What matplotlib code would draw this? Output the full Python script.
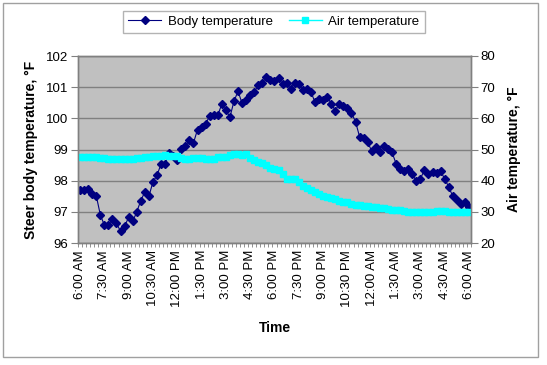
import numpy as np
import matplotlib
matplotlib.use("Agg")
import matplotlib.pyplot as plt
from matplotlib.patches import Rectangle

plt.rcParams['font.family'] = ['Liberation Sans', 'DejaVu Sans']

# tick labels on the category axis (every 6th 15-min reading)
time_labels = ['6:00 AM', '7:30 AM', '9:00 AM', '10:30 AM', '12:00 PM', '1:30 PM',
               '3:00 PM', '4:30 PM', '6:00 PM', '7:30 PM', '9:00 PM', '10:30 PM',
               '12:00 AM', '1:30 AM', '3:00 AM', '4:30 AM', '6:00 AM']

# steer body temperature, deg F (15 min readings, 6:00 AM -> 6:00 AM)
body_temp = [97.71, 97.70, 97.73, 97.58, 97.52, 96.91, 96.57, 96.57, 96.78, 96.64,
             96.37, 96.53, 96.83, 96.69, 97.00, 97.36, 97.64, 97.50, 97.96, 98.17,
             98.54, 98.54, 98.89, 98.80, 98.66, 99.02, 99.10, 99.32, 99.21, 99.64,
             99.73, 99.83, 100.07, 100.11, 100.11, 100.45, 100.26, 100.04, 100.55, 100.87,
             100.48, 100.60, 100.74, 100.84, 101.07, 101.14, 101.34, 101.23, 101.20, 101.30,
             101.09, 101.12, 100.95, 101.14, 101.11, 100.90, 100.95, 100.84, 100.52, 100.63,
             100.59, 100.69, 100.47, 100.25, 100.47, 100.39, 100.33, 100.18, 99.89, 99.41,
             99.37, 99.23, 98.95, 99.07, 98.92, 99.10, 99.02, 98.91, 98.55, 98.38,
             98.30, 98.36, 98.22, 97.98, 98.06, 98.34, 98.22, 98.27, 98.23, 98.30,
             98.06, 97.80, 97.50, 97.37, 97.26, 97.31, 97.16]

# air temperature, deg F
air_temp = [47.6, 47.7, 47.7, 47.6, 47.5, 47.3, 47.2, 47.1, 47.0, 46.9,
            46.9, 46.9, 47.0, 47.0, 47.2, 47.4, 47.6, 47.7, 47.9, 48.0,
            48.0, 48.1, 48.0, 47.9, 47.8, 47.3, 47.0, 47.1, 47.2, 47.2,
            47.3, 47.0, 46.8, 47.1, 47.5, 47.6, 47.5, 48.1, 48.7, 48.7,
            48.1, 48.4, 47.3, 46.6, 46.0, 45.7, 44.9, 44.0, 43.8, 43.4,
            42.1, 40.5, 40.6, 40.6, 39.5, 38.4, 37.6, 36.9, 36.3, 35.6,
            35.2, 34.8, 34.5, 34.1, 33.6, 33.3, 33.1, 32.6, 32.3, 32.1,
            31.9, 31.8, 31.6, 31.5, 31.3, 31.1, 30.9, 30.7, 30.6, 30.5,
            30.3, 30.1, 30.0, 29.9, 29.8, 29.8, 29.8, 30.0, 30.2, 30.3,
            30.2, 30.1, 30.0, 29.9, 29.9, 29.9, 29.9]

x = np.arange(len(body_temp))
grey = '#808080'

fig = plt.figure(figsize=(5.47, 3.65), dpi=100)
ax = fig.add_axes([78/547, 1-243/365, 393/547, 187/365])
ax2 = ax.twinx()

ax.set_facecolor('#C0C0C0')

# body on the left axis, air on the right axis (drawn on top)
body_line, = ax.plot(x, body_temp, color='#000080', lw=0.8, marker='D', ms=4.5,
                     mec='#000080', mfc='#000080', label='Body temperature')
air_line, = ax2.plot(x, air_temp, color='#00FFFF', lw=1, marker='s', ms=5,
                     mec='#00FFFF', mfc='#00FFFF', label='Air temperature')

ax.set_ylim(96, 102)
ax2.set_ylim(20, 80)
ax.set_xlim(-0.5, len(x) - 0.5)

ax.set_yticks(range(96, 103))
ax2.set_yticks(range(20, 81, 10))
ax.yaxis.grid(True, color=grey, lw=1)
ax.set_axisbelow(True)

ax.set_xticks(range(0, len(x), 6))
ax.set_xticklabels(time_labels, rotation=90)
ax.set_xticks(np.arange(-0.5, len(x), 1), minor=True)
ax.tick_params(axis='x', which='major', length=0, labelsize=9.5, pad=5)
ax.tick_params(axis='x', which='minor', length=3, color=grey)
ax.tick_params(axis='y', length=5, color=grey, labelsize=9.5, pad=2)
ax2.tick_params(axis='y', length=5, color=grey, labelsize=9.5, pad=2)

for a in (ax, ax2):
    for s in a.spines.values():
        s.set_color(grey)
        s.set_linewidth(1)

ax.set_xlabel('Time', fontsize=10, fontweight='bold', labelpad=10)
ax.set_ylabel('Steer body temperature, °F', fontsize=10, fontweight='bold', labelpad=6)
ax2.set_ylabel('Air temperature, °F', fontsize=10, fontweight='bold', labelpad=8,
               rotation=90)

fig.legend(handles=[body_line, air_line], loc='upper center',
           bbox_to_anchor=(274/547, 1 - 4/365), ncol=2, fontsize=9.5,
           frameon=True, fancybox=False, edgecolor='#A0A0A0',
           handlelength=2.5, columnspacing=1.2, borderpad=0.4, handletextpad=0.5)

fig.patches.append(Rectangle((3/547, 1-357/365), 535/547, 354/365, transform=fig.transFigure,
                             fill=False, edgecolor='#A0A0A0', lw=1))

fig.savefig('out.png', dpi=100, facecolor='white')
